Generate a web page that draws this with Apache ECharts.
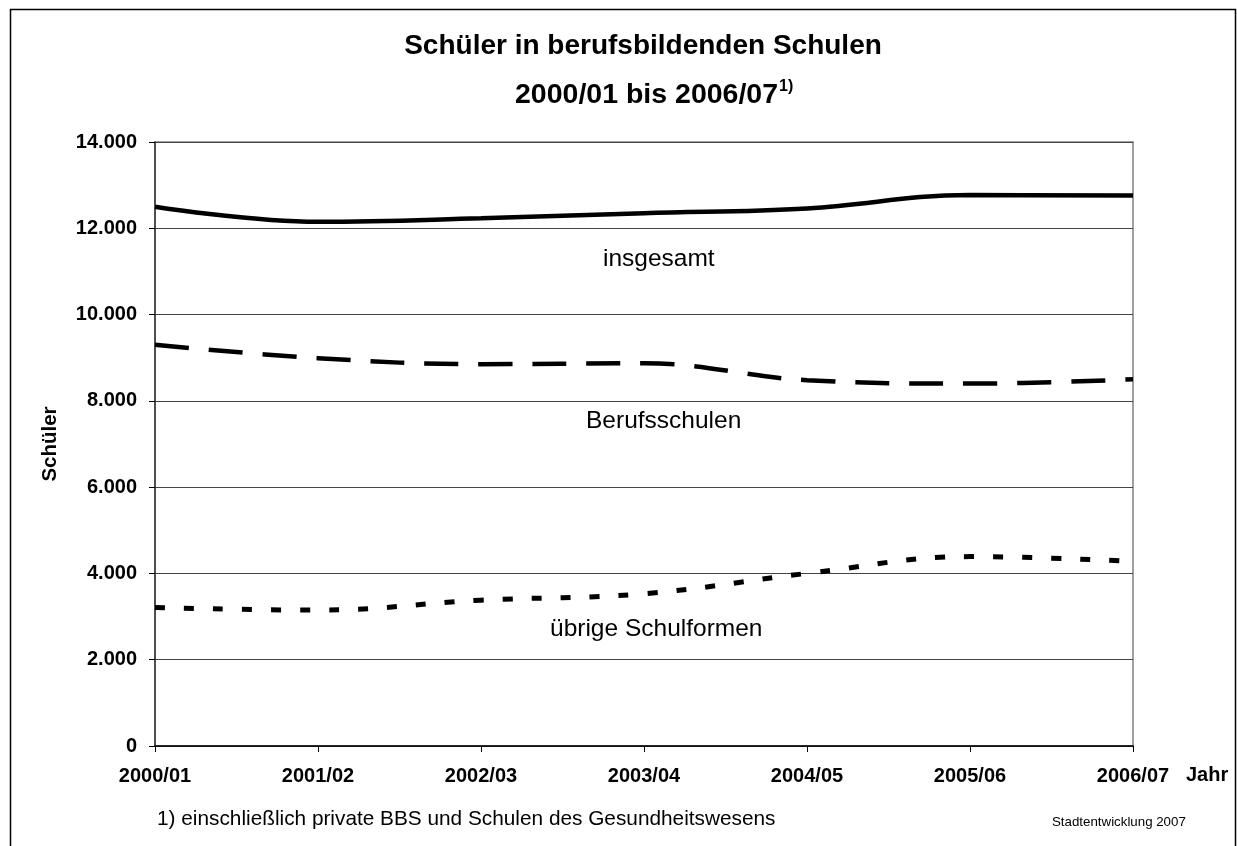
<!DOCTYPE html>
<html>
<head>
<meta charset="utf-8">
<script src="https://cdn.jsdelivr.net/npm/echarts@6/dist/echarts.min.js"></script>
<style>
  html, body { margin: 0; padding: 0; background: #fff; }
  #chart { width: 1237px; height: 846px; }
</style>
</head>
<body>
<div id="chart"></div>
<script>
const years = ["2000/01", "2001/02", "2002/03", "2003/04", "2004/05", "2005/06", "2006/07"];
const insgesamt = [12500, 12150, 12230, 12350, 12460, 12770, 12760];
const berufsschulen = [9300, 8990, 8850, 8870, 8480, 8400, 8500];
const uebrige = [3210, 3150, 3380, 3530, 4000, 4390, 4280];
const yTicks = [0, 2000, 4000, 6000, 8000, 10000, 12000, 14000];

const font = "'Liberation Sans', Arial, sans-serif";

function germanNumber(v) {
    return String(v).replace(/\B(?=(\d{3})+(?!\d))/g, ".");
}

const chart = echarts.init(document.getElementById("chart"));

chart.setOption({
    animation: false,
    backgroundColor: "#fff",
    textStyle: { fontFamily: font, color: "#000" },
    grid: {
        left: 155, right: 104, top: 142, bottom: 100,
        show: true, borderColor: "#808080", borderWidth: 1.5, backgroundColor: "#fff"
    },
    graphic: [
        {
            type: "rect", left: 8, top: 7, silent: true,
            shape: { width: 1225, height: 860 },
            style: { fill: null, stroke: "#000", lineWidth: 1.5 }
        },
        {
            type: "text", x: 643, y: 46,
            style: {
                text: "Schüler in berufsbildenden Schulen",
                font: "bold 28px " + font, fill: "#000",
                align: "center", verticalAlign: "middle"
            }
        },
        {
            type: "text", x: 515, y: 94,
            style: {
                text: "{m|2000/01 bis 2006/07}{s|1)}",
                verticalAlign: "middle",
                rich: {
                    m: { font: "bold 28.5px " + font, fill: "#000", verticalAlign: "bottom" },
                    s: { font: "bold 16px " + font, fill: "#000", verticalAlign: "top", padding: [0, 0, 15, 1] }
                }
            }
        },
        {
            type: "text", left: 603, top: 247,
            style: { text: "insgesamt", font: "24.5px " + font, fill: "#000" }
        },
        {
            type: "text", left: 586, top: 409,
            style: { text: "Berufsschulen", font: "24.5px " + font, fill: "#000" }
        },
        {
            type: "text", left: 550, top: 617,
            style: { text: "übrige Schulformen", font: "24.5px " + font, fill: "#000" }
        },
        {
            type: "text", left: 1186, top: 765,
            style: { text: "Jahr", font: "bold 20px " + font, fill: "#000" }
        },
        {
            type: "text", left: 157, top: 809,
            style: { text: "1) einschließlich private BBS und Schulen des Gesundheitswesens", font: "20.8px " + font, fill: "#000" }
        },
        {
            type: "text", left: 1052, top: 816,
            style: { text: "Stadtentwicklung 2007", font: "13.3px " + font, fill: "#000" }
        }
    ],
    xAxis: {
        type: "category",
        data: years,
        boundaryGap: false,
        axisLine: { lineStyle: { color: "#000", width: 1.5 } },
        axisTick: { show: true, inside: false, length: 6, lineStyle: { color: "#000" } },
        axisLabel: {
            margin: 20, fontSize: 20, fontWeight: "bold", color: "#000", fontFamily: font,
            showMinLabel: true, showMaxLabel: true, interval: 0
        },
        splitLine: { show: false }
    },
    yAxis: {
        type: "value",
        min: 0, max: 14000, interval: 2000,
        name: "Schüler",
        nameLocation: "middle",
        nameGap: 94,
        nameRotate: 90,
        nameTextStyle: { fontSize: 20.5, fontWeight: "bold", color: "#000", fontFamily: font },
        axisLine: { show: true, lineStyle: { color: "#333", width: 1.5 } },
        axisTick: { show: true, length: 6, lineStyle: { color: "#000" } },
        axisLabel: {
            margin: 18, fontSize: 20, fontWeight: "bold", color: "#000", fontFamily: font,
            formatter: v => yTicks.includes(v) ? germanNumber(v) : ""
        },
        splitLine: { show: true, lineStyle: { color: "#444", width: 1 } }
    },
    series: [
        {
            name: "insgesamt", type: "line", data: insgesamt,
            smooth: 0.4, symbol: "none",
            lineStyle: { color: "#000", width: 4.5, type: "solid" }
        },
        {
            name: "Berufsschulen", type: "line", data: berufsschulen,
            smooth: 0.4, symbol: "none",
            lineStyle: { color: "#000", width: 4.5, type: [34, 20] }
        },
        {
            name: "übrige Schulformen", type: "line", data: uebrige,
            smooth: 0.4, symbol: "none",
            lineStyle: { color: "#000", width: 5, type: [10, 19] }
        }
    ]
});
</script>
</body>
</html>
